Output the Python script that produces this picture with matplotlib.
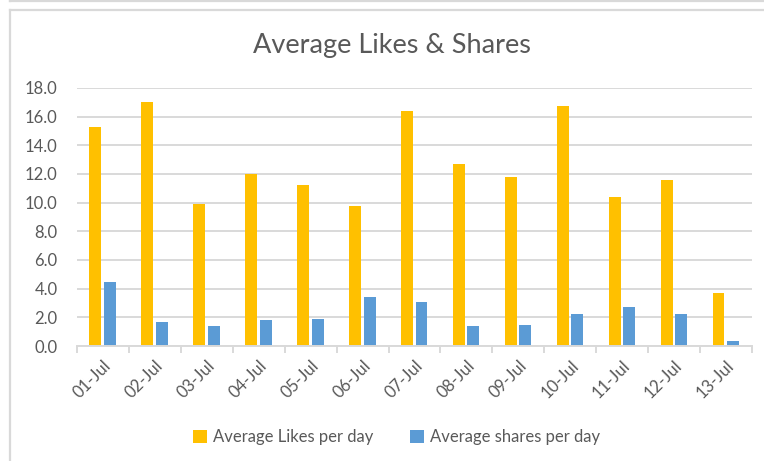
import matplotlib
matplotlib.use("Agg")
import matplotlib.pyplot as plt
from matplotlib.lines import Line2D
from matplotlib.patches import Patch
import numpy as np

categories = ["01-Jul", "02-Jul", "03-Jul", "04-Jul", "05-Jul", "06-Jul", "07-Jul",
              "08-Jul", "09-Jul", "10-Jul", "11-Jul", "12-Jul", "13-Jul"]
likes = [15.3, 17.0, 9.9, 12.0, 11.25, 9.75, 16.4, 12.7, 11.8, 16.75, 10.4, 11.6, 3.7]
shares = [4.5, 1.7, 1.4, 1.8, 1.9, 3.4, 3.1, 1.4, 1.5, 2.2, 2.7, 2.2, 0.35]
yticks = [0, 2, 4, 6, 8, 10, 12, 14, 16, 18]
series_names = ["Average Likes per day", "Average shares per day"]
title = "Average Likes & Shares"

YELLOW = "#FFC000"
BLUE = "#5B9BD5"
GRID = "#D9D9D9"
TEXT = "#595959"

plt.rcParams['font.family'] = ['Lato', 'DejaVu Sans']

W, H = 764, 461
fig = plt.figure(figsize=(W / 100, H / 100), dpi=100)
ax = fig.add_axes([77 / W, 1 - 346 / H, (752 - 77) / W, (346 - 88) / H])

x = np.arange(len(categories))
bw = 0.23
ax.bar(x - 0.145, likes, width=bw, color=YELLOW, zorder=3)
ax.bar(x + 0.135, shares, width=bw, color=BLUE, zorder=3)

ax.set_xlim(-0.5, len(categories) - 0.5)
ax.set_ylim(0, 18)
ax.set_yticks(yticks)
ax.set_yticklabels([f"{v:.1f}" for v in yticks], color=TEXT, fontsize=12)
ax.yaxis.grid(True, color=GRID, linewidth=1.4, zorder=0)
ax.tick_params(axis='y', length=0, pad=14)

ax.set_xticks(x)
ax.set_xticklabels(categories, rotation=45, ha='right', rotation_mode='anchor',
                   color=TEXT, fontsize=12)
ax.tick_params(axis='x', which='major', length=0, pad=8)
ax.set_xticks(np.arange(len(categories) + 1) - 0.5, minor=True)
ax.tick_params(axis='x', which='minor', length=5, width=1.4, color=GRID)

for s in ["top", "right", "left"]:
    ax.spines[s].set_visible(False)
ax.spines["bottom"].set_color(GRID)
ax.spines["bottom"].set_linewidth(1.4)
ax.spines["bottom"].set_zorder(4)

fig.text(392 / W, 1 - 45 / H, title, ha='center', va='center', fontsize=19.5,
         color=TEXT, fontweight='normal')

handles = [Patch(facecolor=YELLOW), Patch(facecolor=BLUE)]
fig.legend(handles, series_names, loc='center', bbox_to_anchor=(397 / W, 1 - 437 / H),
           ncol=2, frameon=False, fontsize=12, labelcolor=TEXT,
           handlelength=0.8, handleheight=0.8, handletextpad=0.4, columnspacing=2.2)

# outer chart frame
fig.add_artist(Line2D([9.5 / W, 9.5 / W], [0, 1 - 10 / H], color=GRID, linewidth=1.6))
fig.add_artist(Line2D([9.5 / W, 1], [1 - 10 / H, 1 - 10 / H], color=GRID, linewidth=1.6))
fig.add_artist(Line2D([9.5 / W, 1], [1 - 1.5 / H, 1 - 1.5 / H], color=GRID, linewidth=1.6))
fig.add_artist(Line2D([9.5 / W, 9.5 / W], [1 - 1.5 / H, 1], color=GRID, linewidth=1.6))

fig.savefig("out.png", dpi=100)
